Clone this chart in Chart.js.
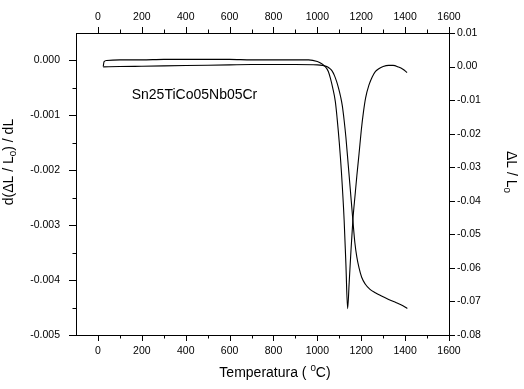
<!DOCTYPE html>
<html>
<head>
<meta charset="utf-8">
<script src="https://cdn.jsdelivr.net/npm/chart.js@4"></script>
<style>
  body { margin: 0; background: #fff; }
  canvas { display: block; }
</style>
</head>
<body>
<canvas id="dil-chart" width="524" height="389"></canvas>
<script>
  // derivative curve d(dL/L0)/dT (left axis)
  const derivTemp = [24, 28, 40, 100, 200, 300, 400, 500, 600, 700, 800, 900, 960, 1000, 1020, 1035, 1050, 1060, 1070, 1082, 1090, 1100, 1110, 1122, 1130, 1138, 1145, 1152, 1162, 1172, 1180, 1190, 1200, 1210, 1220, 1235, 1250, 1265, 1280, 1300, 1325, 1345, 1370, 1390, 1409];
  const derivVal = [-0.00011, -0.00002, 0.00000, 0.00001, 0.00001, 0.00002, 0.00002, 0.00002, 0.00002, 0.00001, 0.00001, 0.00001, 0.00001, -0.00002, -0.00006, -0.00011, -0.00020, -0.00033, -0.00050, -0.00075, -0.00105, -0.00150, -0.00205, -0.00290, -0.00370, -0.00452, -0.00405, -0.00355, -0.00290, -0.00245, -0.00210, -0.00170, -0.00128, -0.00094, -0.00068, -0.00045, -0.00030, -0.00020, -0.00015, -0.00011, -0.00009, -0.00009, -0.00012, -0.00016, -0.00022];

  // shrinkage curve dL/L0 (right axis)
  const dlTemp = [24, 100, 200, 300, 400, 500, 600, 700, 800, 900, 1000, 1025, 1043, 1055, 1067, 1078, 1088, 1098, 1106, 1114, 1122, 1130, 1141, 1150, 1162, 1171, 1180, 1190, 1202, 1218, 1240, 1264, 1290, 1325, 1360, 1390, 1410];
  const dlVal = [-0.0001, 0.0000, 0.0001, 0.0002, 0.0003, 0.0004, 0.0005, 0.0006, 0.0006, 0.0006, 0.0005, 0.0003, 0.0000, -0.0005, -0.0013, -0.0027, -0.0045, -0.0068, -0.0090, -0.0118, -0.0160, -0.0210, -0.0295, -0.0365, -0.0459, -0.0525, -0.0568, -0.0600, -0.0628, -0.0648, -0.0664, -0.0674, -0.0683, -0.0694, -0.0704, -0.0713, -0.0721];

  // axis ticks
  const xTicks = [0, 200, 400, 600, 800, 1000, 1200, 1400, 1600];
  const xMinor = [100, 300, 500, 700, 900, 1100, 1300, 1500];
  const leftTicks = [-0.005, -0.004, -0.003, -0.002, -0.001, 0.000];
  const leftMinor = [-0.0045, -0.0035, -0.0025, -0.0015, -0.0005];
  const rightTicks = [-0.08, -0.07, -0.06, -0.05, -0.04, -0.03, -0.02, -0.01, 0.00, 0.01];

  const sampleName = "Sn25TiCo05Nb05Cr";
  const FONT = "'Liberation Sans', Arial, sans-serif";

  const toPoints = (xs, ys) => xs.map((x, i) => ({ x: x, y: ys[i] }));
  const useTicks = (vals) => (scale) => { scale.ticks = vals.map((v) => ({ value: v })); };

  // draw text with a small sub/superscript piece
  const drawParts = (ctx, parts, x, y, size) => {
    let total = 0;
    parts.forEach((p) => {
      ctx.font = (p.small ? size * 0.7 : size) + "px " + FONT;
      p.w = ctx.measureText(p.t).width;
      total += p.w;
    });
    let cx = x - total / 2;
    parts.forEach((p) => {
      ctx.font = (p.small ? size * 0.7 : size) + "px " + FONT;
      ctx.fillText(p.t, cx, y + (p.shift || 0));
      cx += p.w;
    });
  };

  // tick marks, axis titles and the sample label
  const decorations = {
    id: "decorations",
    afterDraw(chart) {
      const { ctx, chartArea: a } = chart;
      const { x, y, y2 } = chart.scales;
      ctx.save();
      ctx.strokeStyle = "#000";
      ctx.lineWidth = 1;
      ctx.beginPath();
      const hTick = (v, len) => {
        const p = Math.round(x.getPixelForValue(v)) + 0.5;
        ctx.moveTo(p, a.bottom); ctx.lineTo(p, a.bottom + len);
        ctx.moveTo(p, a.top); ctx.lineTo(p, a.top - len);
      };
      xTicks.forEach((v) => hTick(v, 6));
      xMinor.forEach((v) => hTick(v, 3.5));
      leftTicks.forEach((v) => {
        const p = Math.round(y.getPixelForValue(v)) + 0.5;
        ctx.moveTo(a.left, p); ctx.lineTo(a.left - 7, p);
      });
      leftMinor.forEach((v) => {
        const p = Math.round(y.getPixelForValue(v)) + 0.5;
        ctx.moveTo(a.left, p); ctx.lineTo(a.left - 3.5, p);
      });
      rightTicks.forEach((v) => {
        const p = Math.round(y2.getPixelForValue(v)) + 0.5;
        ctx.moveTo(a.right, p); ctx.lineTo(a.right + 6, p);
      });
      ctx.stroke();

      ctx.fillStyle = "#000";
      ctx.textBaseline = "middle";
      ctx.textAlign = "left";

      // bottom title
      drawParts(ctx, [
        { t: "Temperatura ( " },
        { t: "0", small: true, shift: -5 },
        { t: "C)" }
      ], 275, 373, 14);

      // left title
      ctx.save();
      ctx.translate(9, 162);
      ctx.rotate(-Math.PI / 2);
      drawParts(ctx, [
        { t: "d(\u0394L / L" },
        { t: "0", small: true, shift: 4 },
        { t: ") / dL" }
      ], 0, 0, 14);
      ctx.restore();

      // right title
      ctx.save();
      ctx.translate(511, 172);
      ctx.rotate(Math.PI / 2);
      drawParts(ctx, [
        { t: "\u0394L / L" },
        { t: "0", small: true, shift: 4 }
      ], 0, 0, 14);
      ctx.restore();

      // sample name inside the plot
      ctx.font = "14px " + FONT;
      ctx.textAlign = "center";
      ctx.fillText(sampleName, x.getPixelForValue(440), y.getPixelForValue(-0.00063));
      ctx.restore();
    }
  };

  const tickFont = { family: FONT, size: 10.5 };

  const createChart = (ctx) => {
    return new Chart(ctx, {
      type: "line",
      data: {
        datasets: [
          {
            label: "d(dL/L0)/dT",
            data: toPoints(derivTemp, derivVal),
            yAxisID: "y",
            borderColor: "#000",
            borderWidth: 1.1,
            pointRadius: 0,
            cubicInterpolationMode: "monotone",
          },
          {
            label: "dL/L0",
            data: toPoints(dlTemp, dlVal),
            yAxisID: "y2",
            borderColor: "#000",
            borderWidth: 1.1,
            pointRadius: 0,
            cubicInterpolationMode: "monotone",
          },
        ],
      },
      options: {
        responsive: false,
        animation: false,
        devicePixelRatio: 1,
        layout: { padding: 0 },
        plugins: { legend: { display: false }, tooltip: { enabled: false } },
        scales: {
          x: {
            type: "linear", position: "bottom", min: -100, max: 1600,
            afterBuildTicks: useTicks(xTicks),
            afterFit: (s) => { s.height = 54; },
            grid: { display: false, drawTicks: true, tickLength: 6 },
            border: { display: true, color: "#000", width: 1 },
            ticks: { font: tickFont, color: "#000", padding: 4, maxRotation: 0, autoSkip: false, callback: (v) => String(v) },
          },
          x2: {
            type: "linear", position: "top", min: -100, max: 1600,
            afterBuildTicks: useTicks(xTicks),
            afterFit: (s) => { s.height = 33; },
            grid: { display: false, drawTicks: true, tickLength: 6 },
            border: { display: true, color: "#000", width: 1 },
            ticks: { font: tickFont, color: "#000", padding: 4, maxRotation: 0, autoSkip: false, callback: (v) => String(v) },
          },
          y: {
            type: "linear", position: "left", min: -0.005, max: 0.0005,
            afterBuildTicks: useTicks(leftTicks),
            afterFit: (s) => { s.width = 76; },
            grid: { display: false, drawTicks: true, tickLength: 7 },
            border: { display: true, color: "#000", width: 1 },
            ticks: { font: tickFont, color: "#000", padding: 9, autoSkip: false, callback: (v) => v.toFixed(3) },
          },
          y2: {
            type: "linear", position: "right", min: -0.08, max: 0.01,
            afterBuildTicks: useTicks(rightTicks),
            afterFit: (s) => { s.width = 75; },
            grid: { display: false, drawTicks: true, tickLength: 6 },
            border: { display: true, color: "#000", width: 1 },
            ticks: { font: tickFont, color: "#000", padding: 2, autoSkip: false, callback: (v) => v.toFixed(2) },
          },
        },
      },
      plugins: [decorations],
    });
  };

  createChart(document.getElementById("dil-chart").getContext("2d"));
</script>
</body>
</html>
